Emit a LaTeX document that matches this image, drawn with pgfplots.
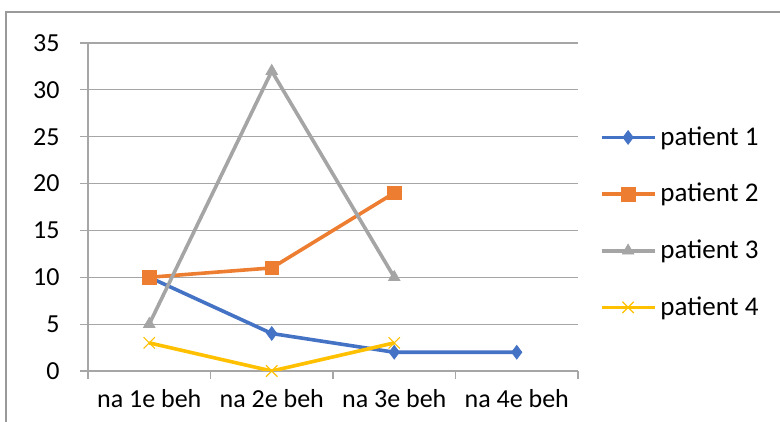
\documentclass[border=0pt]{standalone}
\usepackage{fontspec}
\setmainfont{Carlito}
\usepackage{pgfplots}
\pgfplotsset{compat=1.18}
\usetikzlibrary{plotmarks}

\definecolor{pblue}{HTML}{4472C4}
\definecolor{porange}{HTML}{ED7D31}
\definecolor{pgray}{HTML}{A5A5A5}
\definecolor{pyellow}{HTML}{FFC000}
\definecolor{gridc}{HTML}{A6A6A6}
\definecolor{framec}{HTML}{9A9A9A}

\begin{document}
\begin{tikzpicture}
\useasboundingbox (0,0) rectangle (390pt,211pt);
% chart frame
\draw[framec, line width=0.6pt] (3pt,0pt) -- (3pt,205pt) -- (390pt,205pt);
\begin{axis}[
  scale only axis,
  width=245pt, height=164pt,
  at={(44pt,25.5pt)}, anchor=south west,
  xmin=-0.5, xmax=3.5,
  ymin=0, ymax=35,
  xtick={0,1,2,3},
  xticklabels={na 1e beh, na 2e beh, na 3e beh, na 4e beh},
  minor xtick={-0.5,0.5,1.5,2.5,3.5},
  ytick={0,5,...,35},
  axis x line=bottom, axis y line=left,
  axis line style={-, gridc, line width=0.6pt},
  tick align=outside,
  major tick length=4pt, minor tick length=4pt,
  major x tick style={draw=none},
  minor x tick style={gridc, line width=0.6pt},
  y tick style={gridc, line width=0.6pt},
  ymajorgrids,
  major grid style={gridc, line width=0.6pt},
  ticklabel style={font=\fontsize{13}{15}\selectfont, black},
  /pgf/number format/assume math mode=true,
  xticklabel style={yshift=-1pt},
  yticklabel style={xshift=-6pt},
  line width=1.8pt,
  legend style={draw=none, fill=none, at={(1.0,0.775)}, anchor=north west,
    font=\fontsize{13.5}{15}\selectfont, row sep=13.5pt,
    inner xsep=0pt, xshift=10pt},
  legend cell align=left,
  legend image code/.code={
    \draw[mark repeat=2, mark phase=2, #1]
      plot coordinates {(0pt,0pt) (13.25pt,0pt) (26.5pt,0pt)};
  },
]
\addplot[pblue, mark=diamond*, mark size=3.4pt, mark options={solid, fill=pblue, line width=0.4pt}]
  coordinates {(0,10) (1,4) (2,2) (3,2)};
\addlegendentry{patient 1}
\addplot[porange, mark=square*, mark size=3.4pt, mark options={solid, fill=porange, line width=0.4pt}]
  coordinates {(0,10) (1,11) (2,19)};
\addlegendentry{patient 2}
\addplot[pgray, mark=triangle*, mark size=3.3pt, mark options={solid, fill=pgray, line width=0.4pt}]
  coordinates {(0,5) (1,32) (2,10)};
\addlegendentry{patient 3}
\addplot[pyellow, mark=x, mark size=4pt, mark options={solid, line width=0.6pt}]
  coordinates {(0,3) (1,0) (2,3)};
\addlegendentry{patient 4}
\end{axis}
\end{tikzpicture}
\end{document}
